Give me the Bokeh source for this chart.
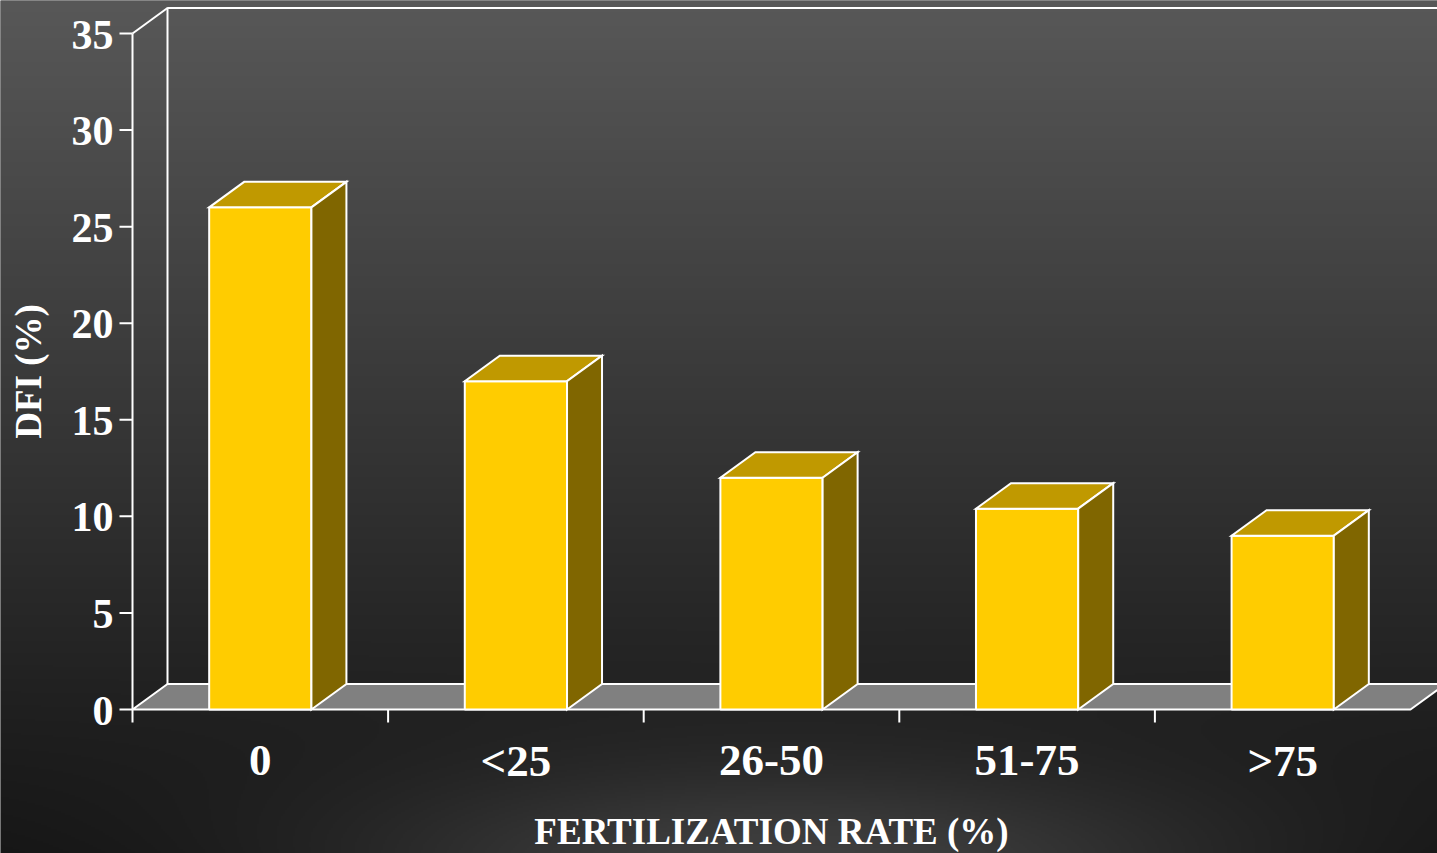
import numpy as np
from bokeh.plotting import figure
from bokeh.models import Range1d
from bokeh.core.properties import value
from bokeh.embed import file_html
from bokeh.resources import INLINE

# ---- data ----
categories = ["0", "<25", "26-50", "51-75", ">75"]
dfi = [26.0, 17.0, 12.0, 10.4, 9.0]
y_ticks = [0, 5, 10, 15, 20, 25, 30, 35]
y_tick_labels = ["0", "5", "10", "15", "20", "25", "30", "35"]
x_title = "FERTILIZATION RATE (%)"
y_title = "DFI (%)"

# ---- layout (pixels) ----
W, H = 1437, 853
N = len(categories)
Y_MAX = y_ticks[-1]
LEFT, RIGHT_EXTRA, BOTTOM, TOP = 132, 27, 144, 33
px_per_x = (W - LEFT - RIGHT_EXTRA) / N
px_per_y = (H - BOTTOM - TOP) / Y_MAX

x_start = -LEFT / px_per_x
x_end = N + RIGHT_EXTRA / px_per_x
y_start = -BOTTOM / px_per_y
y_end = Y_MAX + TOP / px_per_y

# oblique depth of the 3-D box, in data units
DX = 35 / px_per_x
DY = 25.5 / px_per_y
HALF = 0.2  # half width of a bar's front face (category units)

FONT = value("Liberation Serif")
WHITE = "#ffffff"

p = figure(width=W, height=H, output_backend="svg", toolbar_location=None,
           x_range=Range1d(x_start, x_end), y_range=Range1d(y_start, y_end),
           x_axis_location=None, y_axis_location=None, min_border=0)
p.grid.visible = False
p.outline_line_color = None
p.background_fill_color = "#303030"
p.border_fill_color = "#303030"

# ---- background: dark vertical gradient with a soft glow at the bottom ----
gh, gw = H // 2, W // 2
yy = (np.arange(gh) + 0.5) * H / gh          # pixel rows from top
xx = (np.arange(gw) + 0.5) * W / gw
Xg, Yg = np.meshgrid(xx, yy)
shade = 88 - 68 * Yg / H
shade += 45 * np.exp(-(((Xg - 790) / 330) ** 2) / 2 - (((Yg - 875) / 75) ** 2) / 2)
shade = np.clip(shade, 0, 255).astype(np.uint32)
shade = shade[::-1]                           # image rows run bottom-up
rgba = (255 << 24) | (shade << 16) | (shade << 8) | shade
p.image_rgba(image=[rgba.astype(np.uint32)], x=x_start, y=y_start,
             dw=x_end - x_start, dh=y_end - y_start)

# ---- back wall and side wall edges ----
p.line([DX, DX, N + DX, N + DX], [DY, Y_MAX + DY, Y_MAX + DY, DY],
       line_color=WHITE, line_width=2)
p.line([0, DX], [Y_MAX, Y_MAX + DY], line_color=WHITE, line_width=2)

# ---- floor ----
p.patch([0, N, N + DX, DX], [0, 0, DY, DY], fill_color="#808080",
        line_color=WHITE, line_width=2)

# ---- axes ----
p.line([0, 0], [0, Y_MAX], line_color=WHITE, line_width=2)
p.ray(x=0, y=y_ticks, length=13, length_units="screen", angle=np.pi,
      line_color=WHITE, line_width=2)
p.ray(x=list(range(N)), y=0, length=13, length_units="screen",
      angle=-np.pi / 2, line_color=WHITE, line_width=2)

# ---- 3-D bars ----
centers = [i + 0.5 for i in range(N)]
lefts = [c - HALF for c in centers]
rights = [c + HALF for c in centers]

top_xs = [[l, r, r + DX, l + DX] for l, r in zip(lefts, rights)]
top_ys = [[v, v, v + DY, v + DY] for v in dfi]
side_xs = [[r, r + DX, r + DX, r] for r in rights]
side_ys = [[0, DY, v + DY, v] for v in dfi]

p.quad(left=lefts, right=rights, bottom=0, top=dfi, fill_color="#ffcc00",
       line_color=WHITE, line_width=2)
p.patches(top_xs, top_ys, fill_color="#c09900", line_color=WHITE,
          line_width=2, line_join="miter")
p.patches(side_xs, side_ys, fill_color="#806600", line_color=WHITE,
          line_width=2, line_join="miter")

# ---- labels ----
p.text(x=0, y=y_ticks, text=y_tick_labels, x_offset=-19, y_offset=1,
       text_align="right", text_baseline="middle", text_font=FONT,
       text_font_style="bold", text_font_size="42px", text_color=WHITE)
p.text(x=centers, y=0, text=categories, y_offset=51, text_align="center",
       text_baseline="middle", text_font=FONT, text_font_style="bold",
       text_font_size="45px", text_color=WHITE)
p.text(x=N / 2, y=0, text=[x_title], y_offset=122, text_align="center",
       text_baseline="middle", text_font=FONT, text_font_style="bold",
       text_font_size="37px", text_color=WHITE)
p.text(x=0, y=Y_MAX / 2, text=[y_title], x_offset=-104, angle=np.pi / 2,
       text_align="center", text_baseline="middle", text_font=FONT,
       text_font_style="bold", text_font_size="37px", text_color=WHITE)

open("out.html", "w").write(file_html(p, INLINE))
